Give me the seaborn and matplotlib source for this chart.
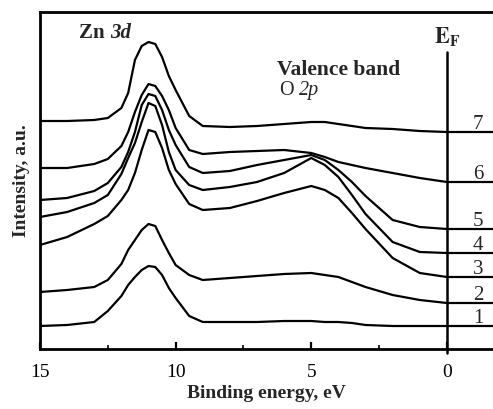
import numpy as np
import pandas as pd
import matplotlib
matplotlib.use("Agg")
import matplotlib.pyplot as plt
import seaborn as sns

# Binding energy grid (eV) and intensities (a.u.)
energy = [15, 14, 13, 12.5, 12, 11.75, 11.5, 11.25, 11, 10.75, 10.5, 10.25, 10,
          9.5, 9, 8, 7, 6, 5, 4.5, 4, 3.5, 3, 2, 1, 0, -1.7]
curve_1 = [23, 24, 27, 38, 53, 64, 72, 79, 83, 82, 74, 61, 51,
           33, 27, 27, 27, 28, 28, 27, 27, 26, 24, 23, 23, 23, 23]
curve_2 = [57, 59, 62, 69, 85, 99, 109, 119, 125, 123, 109, 96, 84,
           74, 69, 71, 73, 75, 76, 74, 72, 67, 62, 54, 49, 46, 46]
curve_3 = [104, 112, 125, 133, 149, 159, 176, 199, 219, 217, 201, 179, 165,
           145, 139, 141, 148, 156, 163, 159, 151, 136, 120, 91, 76, 72, 72]
curve_4 = [132, 137, 146, 154, 175, 191, 206, 227, 246, 243, 224, 197, 179,
           164, 159, 162, 167, 176, 191, 184, 172, 154, 135, 107, 97, 96, 96]
curve_5 = [149, 151, 158, 166, 182, 197, 217, 244, 255, 253, 239, 219, 204,
           182, 176, 178, 184, 189, 194, 189, 179, 167, 153, 129, 122, 120, 120]
curve_6 = [181, 181, 185, 190, 203, 217, 237, 254, 265, 263, 253, 239, 221,
           199, 195, 197, 198, 199, 196, 192, 187, 184, 181, 176, 171, 167, 167]
curve_7 = [228, 228, 229, 231, 241, 256, 289, 303, 307, 305, 292, 273, 259,
           233, 223, 222, 223, 225, 227, 227, 225, 223, 221, 220, 218, 217, 217]
curve_labels = ["1", "2", "3", "4", "5", "6", "7"]
x_ticks = [15, 10, 5, 0]
x_minor_ticks = [12.5, 7.5, 2.5]

curves = [curve_1, curve_2, curve_3, curve_4, curve_5, curve_6, curve_7]
frames = []
for lab, vals in zip(curve_labels, curves):
    frames.append(pd.DataFrame({"energy": energy, "intensity": vals, "curve": lab}))
df = pd.concat(frames, ignore_index=True)

sns.set_theme(style="ticks")
plt.rcParams['font.family'] = ['Liberation Serif', 'DejaVu Serif']
plt.rcParams['mathtext.fontset'] = 'stix'

fig = plt.figure(figsize=(4.93, 4.09), dpi=100)
ax = fig.add_axes([40 / 493, 60 / 409, 453 / 493, 337 / 409])

sns.lineplot(data=df, x="energy", y="intensity", hue="curve",
             palette=["black"] * 7, legend=False, linewidth=1.6,
             estimator=None, sort=False, ax=ax)

ax.set_xlim(15, -1.7)
ax.set_ylim(0, 337)

for s in ["top", "left", "bottom"]:
    ax.spines[s].set_linewidth(2.0)
    ax.spines[s].set_color("black")
ax.spines["right"].set_visible(False)

ax.set_xticks(x_ticks)
ax.set_xticklabels([str(t) for t in x_ticks])
ax.set_xticks(x_minor_ticks, minor=True)
ax.set_yticks([])
ax.tick_params(axis="x", which="major", direction="in", length=5, width=1.6,
               labelsize=14, pad=11, colors="black")
ax.tick_params(axis="x", which="minor", direction="in", length=3, width=1.4)

ax.set_xlabel("Binding energy, eV", fontsize=14, fontweight="bold", labelpad=3)
ax.set_ylabel("Intensity, a.u.", fontsize=14, fontweight="bold", labelpad=7)

# Fermi level line
ax.axvline(0, ymin=-4 / 337, ymax=297 / 337, color="black", lw=1.8, clip_on=False)
ax.text(0, 306, r"$\mathbf{E}_{\mathbf{F}}$", fontsize=16, ha="center", va="baseline")

# Annotations
t1 = ax.text(13.55, 311, "Zn", fontsize=15, fontweight="bold", va="baseline")
ax.annotate("3d", xy=(1, 0), xycoords=t1, xytext=(4, 0), textcoords="offset points",
            fontsize=15, fontweight="bold", fontstyle="italic", va="bottom")
ax.text(6.26, 274, "Valence band", fontsize=15.5, fontweight="bold", va="baseline")
t2 = ax.text(6.19, 254, "O", fontsize=14.5, va="baseline")
ax.annotate("2p", xy=(1, 0), xycoords=t2, xytext=(4, 0), textcoords="offset points",
            fontsize=14.5, fontstyle="italic", va="bottom")

for lab, vals in zip(curve_labels, curves):
    ax.text(-1.15, vals[-1] + 3, lab, fontsize=15, ha="center", va="baseline")

fig.savefig("out.png", dpi=100)
